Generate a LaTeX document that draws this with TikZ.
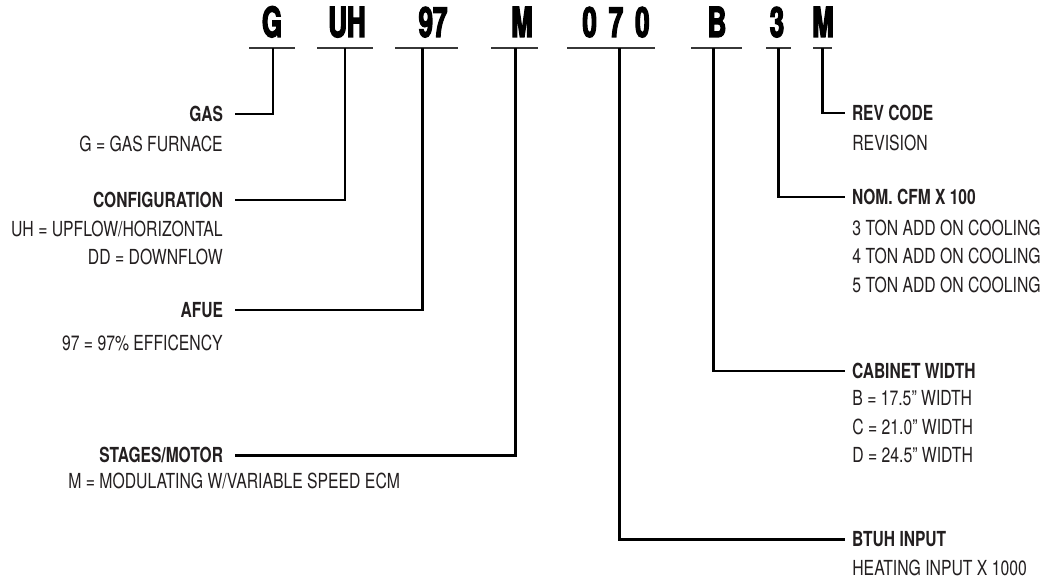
\documentclass[tikz,border=0pt]{standalone}
\usepackage{fontspec}
\setmainfont{TeX Gyre Heros}[FakeStretch=0.76, BoldFeatures={FakeStretch=0.75}]
\newfontfamily\codefont{TeX Gyre Heros}[BoldFeatures={FakeStretch=0.62, FakeBold=3}]
\definecolor{inkgray}{RGB}{35, 31, 32}
\definecolor{bargray}{RGB}{55, 55, 55}
\usetikzlibrary{calc}

\begin{document}
\begin{tikzpicture}[
        x=0.02cm, y=-0.02cm,
        code/.style={font=\codefont\bfseries\fontsize{23.7}{24}\selectfont, inner sep=0pt,
                     text height=6mm, text depth=0pt, text=black},
        head/.style={font=\bfseries\fontsize{11.8}{13}\selectfont, inner sep=0pt,
                     text height=3mm, text depth=0pt, text=inkgray},
        lefthead/.style={head, anchor=east, outer xsep=2.4mm},
        righthead/.style={head, anchor=west, outer xsep=1.4mm},
        desc/.style={font=\fontsize{11.8}{16.2}\selectfont, inner sep=0pt, text=inkgray},
        leftdesc/.style={desc, anchor=north east, align=right},
        rightdesc/.style={desc, anchor=north west, align=left},
        link/.style={line width=1.7pt},
        bar/.style={line width=1.6pt, draw=bargray}
    ]
        \useasboundingbox[fill=white] (0,0) rectangle (1040,581);

        % Model number
        \node[code] (cG)   at (272,22) {G};
        \node[code] (cUH)  at (347,22) {UH};
        \node[code] (c97)  at (433,22) {97};
        \node[code] (cM)   at (522,22) {M};
        \node[code] (c070) at (616,22) {0\hspace{2.4mm}7\hspace{2.4mm}0};
        \node[code] (cB)   at (717,22) {B};
        \node[code] (c3)   at (777,22) {3};
        \node[code] (cRev) at (823,22) {M};

        % Bars under each group
        \draw[bar] (249,48) -- (295,48);
        \draw[bar] (317,48) -- (373,48);
        \draw[bar] (395,48) -- (458,48);
        \draw[bar] (491,48) -- (538,48);
        \draw[bar] (567,48) -- (655,48);
        \draw[bar] (691,48) -- (742,48);
        \draw[bar] (766,48) -- (791,48);
        \draw[bar] (813,48) -- (832,48);

        % Stem tops
        \coordinate (sG)   at (273,48);
        \coordinate (sUH)  at (345,48);
        \coordinate (s97)  at (422,48);
        \coordinate (sM)   at (515,48);
        \coordinate (s070) at (619,48);
        \coordinate (sB)   at (713,48);
        \coordinate (s3)   at (778,48);
        \coordinate (sRev) at (822,48);

        % Left side
        \node[lefthead] (gas) at (235,114) {GAS};
        \node[leftdesc] (gasd) at (223,135.5) {G = GAS FURNACE};
        \draw[link] (sG) |- (gas);

        \node[lefthead] (conf) at (235,200) {CONFIGURATION};
        \node[leftdesc] (confd) at (223,220.5)
            {UH = UPFLOW/HORIZONTAL\\DD = DOWNFLOW};
        \draw[link] (sUH) |- (conf);

        \node[lefthead] (afue) at (235,310) {AFUE};
        \node[leftdesc] (afued) at (223,334.5) {97 = 97\% EFFICENCY};
        \draw[link] (s97) |- (afue);

        \node[lefthead] (stg) at (235,455) {STAGES/MOTOR};
        \node[desc, anchor=north west] (stgd) at (68,472.5)
            {M = MODULATING W/VARIABLE SPEED ECM};
        \draw[link] (sM) |- (stg);

        % Right side
        \node[righthead] (rev) at (845,113) {REV CODE};
        \node[rightdesc] (revd) at (852,134.5) {REVISION};
        \draw[link] (sRev) |- (rev);

        \node[righthead] (cfm) at (845,197) {NOM. CFM X 100};
        \node[rightdesc] (cfmd) at (852,219.5)
            {3 TON ADD ON COOLING\\4 TON ADD ON COOLING\\5 TON ADD ON COOLING};
        \draw[link] (s3) |- (cfm);

        \node[righthead] (cab) at (845,371) {CABINET WIDTH};
        \node[rightdesc] (cabd) at (852,390.5)
            {B = 17.5” WIDTH\\C = 21.0” WIDTH\\D = 24.5” WIDTH};
        \draw[link] (sB) |- (cab);

        \node[righthead] (btu) at (845,539) {BTUH INPUT};
        \node[rightdesc] (btud) at (852,559.5) {HEATING INPUT X 1000};
        \draw[link] (s070) |- (btu);
    \end{tikzpicture}
\end{document}
